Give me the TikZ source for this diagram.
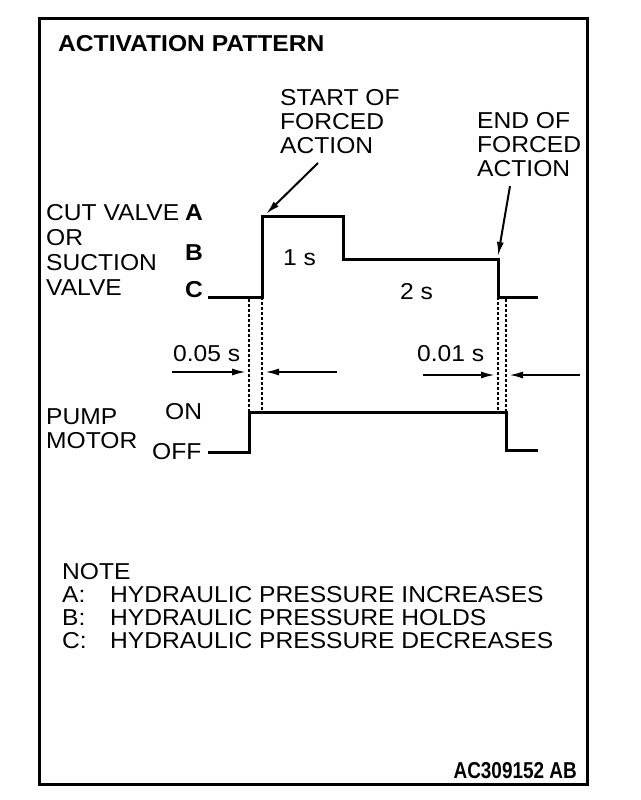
\documentclass[tikz,border=0pt]{standalone}
\usepackage{fontspec}
\setmainfont{Liberation Sans}[FakeStretch=1.07]
\usetikzlibrary{arrows.meta}

\begin{document}
\begin{tikzpicture}[x=1pt, y=-1pt,
    lbl/.style={anchor=west, inner sep=0pt, font=\fontsize{23}{24}\selectfont},
    boldlbl/.style={lbl, font=\fontsize{23}{24}\selectfont\bfseries},
    wave/.style={line width=3pt},
    guide/.style={line width=1.3pt, dash pattern=on 3pt off 2pt},
    marker/.style={line width=2pt, -{Latex[length=14pt, width=7pt]}}
  ]
  \useasboundingbox (0,0) rectangle (640,800);

  % 1. Frame and title
  \draw[line width=3pt] (39,19) rectangle (587,784);
  \node[boldlbl] (title) at (58,44) {ACTIVATION PATTERN};
  \node[boldlbl, anchor=east] (code) at (577,771) {\scalebox{0.77}[1]{AC309152 AB}};

  % 2. Side labels
  \foreach \t [count=\i] in {CUT VALVE, OR, SUCTION, VALVE} {
    \node[lbl] (valve-\i) at (46, 188+25*\i) {\t};
  }
  \node[boldlbl] (lvl-a) at (185,213) {A};
  \node[boldlbl] (lvl-b) at (185,253) {B};
  \node[boldlbl] (lvl-c) at (185,290) {C};
  \node[lbl] (pump-1) at (46,417) {PUMP};
  \node[lbl] (pump-2) at (46,441) {MOTOR};
  \node[lbl] (on) at (165,412) {ON};
  \node[lbl] (off) at (152,452) {OFF};

  % 3. Valve signal (C -> A -> B -> C)
  \coordinate (v0) at (208,297);
  \coordinate (v1) at (262,297);
  \coordinate (v2) at (262,216);
  \coordinate (v3) at (343,216);
  \coordinate (v4) at (343,259);
  \coordinate (v5) at (498,259);
  \coordinate (v6) at (498,297);
  \coordinate (v7) at (538,297);
  \draw[wave] (v0) -- (v1) -- (v2) -- (v3) -- (v4) -- (v5) -- (v6) -- (v7);
  \node[lbl] (t1) at (283,258) {1 s};
  \node[lbl] (t2) at (400,292) {2 s};

  % 4. Pump motor signal (OFF -> ON -> OFF)
  \coordinate (p0) at (208,452);
  \coordinate (p1) at (249,452);
  \coordinate (p2) at (249,412);
  \coordinate (p3) at (506,412);
  \coordinate (p4) at (506,450);
  \coordinate (p5) at (538,450);
  \draw[wave] (p0) -- (p1) -- (p2) -- (p3) -- (p4) -- (p5);

  % 5. Dotted guides between the two signals
  \draw[guide] (249,299) -- (p2);
  \draw[guide] (v1) -- (262,412);
  \draw[guide] (v6) -- (498,412);
  \draw[guide] (506,299) -- (p3);

  % 6. Delay markers
  \node[lbl] (d1) at (173,354) {0.05 s};
  \node[lbl] (d2) at (417,354) {0.01 s};
  \coordinate (d1-l) at (172,372);
  \coordinate (d1-lt) at (246,372);
  \coordinate (d1-r) at (337,372);
  \coordinate (d1-rt) at (265,372);
  \coordinate (d2-l) at (423,375);
  \coordinate (d2-lt) at (495,375);
  \coordinate (d2-r) at (580,375);
  \coordinate (d2-rt) at (509,375);
  \draw[marker] (d1-l) -- (d1-lt);
  \draw[marker] (d1-r) -- (d1-rt);
  \draw[marker] (d2-l) -- (d2-lt);
  \draw[marker] (d2-r) -- (d2-rt);

  % 7. Start / end of forced action
  \foreach \t [count=\i] in {START OF, FORCED, ACTION} {
    \node[lbl] (start-\i) at (280, 74+24*\i) {\t};
  }
  \foreach \t [count=\i] in {END OF, FORCED, ACTION} {
    \node[lbl] (end-\i) at (477, 97+24*\i) {\t};
  }
  \coordinate (start-tail) at (318,163);
  \coordinate (start-tip) at (266,214);
  \coordinate (end-tail) at (510,186);
  \coordinate (end-tip) at (498,256);
  \draw[marker] (start-tail) -- (start-tip);
  \draw[marker] (end-tail) -- (end-tip);

  % 8. Note
  \node[lbl] (note) at (62,572) {NOTE};
  \foreach \k/\t [count=\i] in {A/INCREASES, B/HOLDS, C/DECREASES} {
    \node[lbl] (note-\k) at (62, 572+23*\i) {\k:};
    \node[lbl] (note-txt-\i) at (110, 572+23*\i) {HYDRAULIC PRESSURE \t};
  }
\end{tikzpicture}
\end{document}
